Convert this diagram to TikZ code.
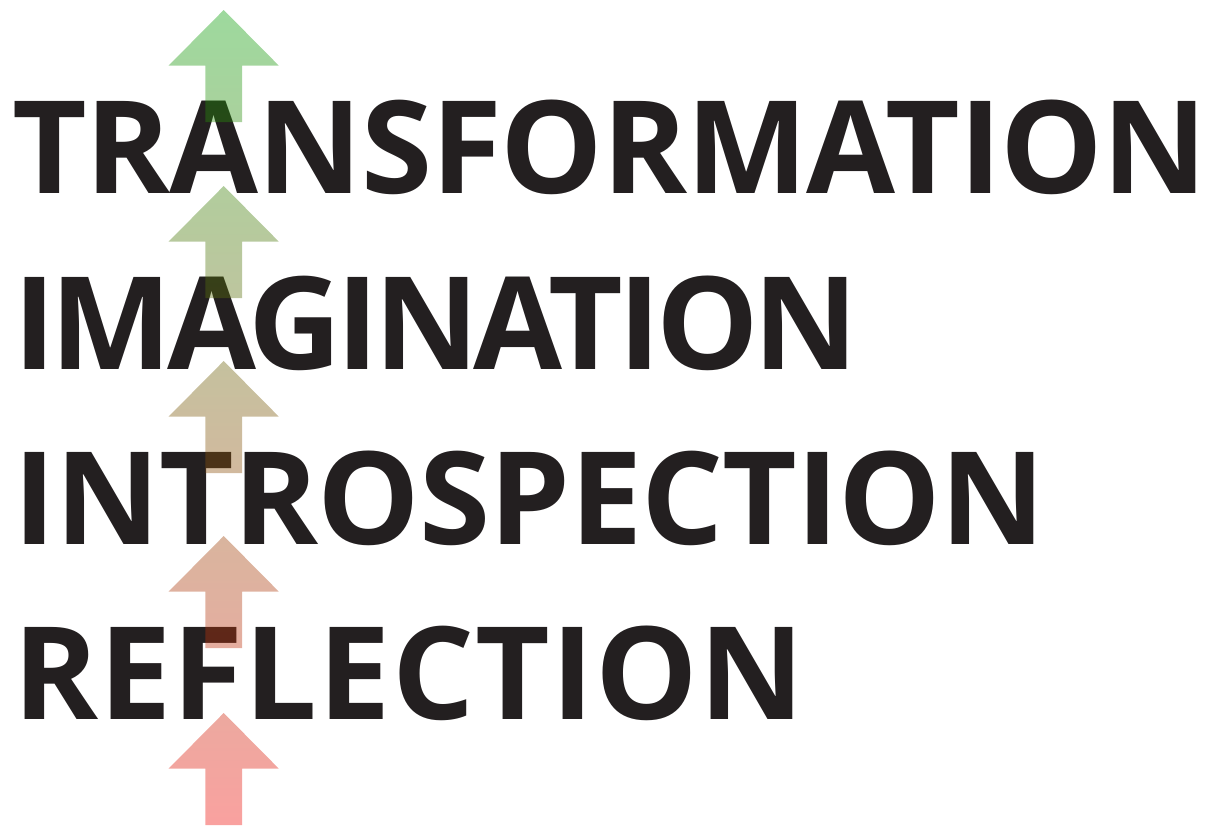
\documentclass[tikz,border=0pt]{standalone}
\usepackage{fontspec}
\usepackage{xcolor}
\newfontfamily\wordfont{Open Sans}
\definecolor{inkblack}{RGB}{35,31,32}
\definecolor{arrowred}{RGB}{240,20,15}
\definecolor{arrowgreen}{RGB}{10,160,10}

\begin{document}
\begin{tikzpicture}[
    x = 1pt, y = -1pt,
    every node/.style={ anchor = base west, inner sep = 0pt, text = inkblack },
    word/.style={ font = \wordfont\bfseries\fontsize{129}{140}\selectfont
      \addfontfeature{LetterSpace=#1} },
    risearrow/.style={ fill opacity = 0.4, draw = none }
    ]
  \useasboundingbox (0,0) rectangle (1214,825);
  \node (transformation) [word = -0.9] at (12,193) {TRANSFORMATION};
  \node (imagination) [word = -4] at (13,369) {IMAGINATION};
  \node (introspection) [word = -0.6] at (13,544) {INTROSPECTION};
  \node (reflection) [word = 0.9] at (13,719) {REFLECTION};
  % arrows, top to bottom
  \shade[risearrow, top color = arrowgreen, bottom color = arrowgreen!86!arrowred]
    (223.7,10) -- ++(55,55.5) -- ++(-36.7,0) -- ++(0,56.5) -- ++(-36.6,0)
    -- ++(0,-56.5) -- ++(-36.7,0) -- cycle;
  \shade[risearrow, top color = arrowgreen!78!arrowred, bottom color = arrowgreen!65!arrowred]
    (223.7,186) -- ++(55,55.5) -- ++(-36.7,0) -- ++(0,56.5) -- ++(-36.6,0)
    -- ++(0,-56.5) -- ++(-36.7,0) -- cycle;
  \shade[risearrow, top color = arrowgreen!57!arrowred, bottom color = arrowgreen!43!arrowred]
    (223.7,361) -- ++(55,55.5) -- ++(-36.7,0) -- ++(0,56.5) -- ++(-36.6,0)
    -- ++(0,-56.5) -- ++(-36.7,0) -- cycle;
  \shade[risearrow, top color = arrowgreen!35!arrowred, bottom color = arrowgreen!22!arrowred]
    (223.7,536) -- ++(55,55.5) -- ++(-36.7,0) -- ++(0,56.5) -- ++(-36.6,0)
    -- ++(0,-56.5) -- ++(-36.7,0) -- cycle;
  \shade[risearrow, top color = arrowgreen!14!arrowred, bottom color = arrowred]
    (223.7,713) -- ++(55,55.5) -- ++(-36.7,0) -- ++(0,56.5) -- ++(-36.6,0)
    -- ++(0,-56.5) -- ++(-36.7,0) -- cycle;
\end{tikzpicture}
\end{document}
